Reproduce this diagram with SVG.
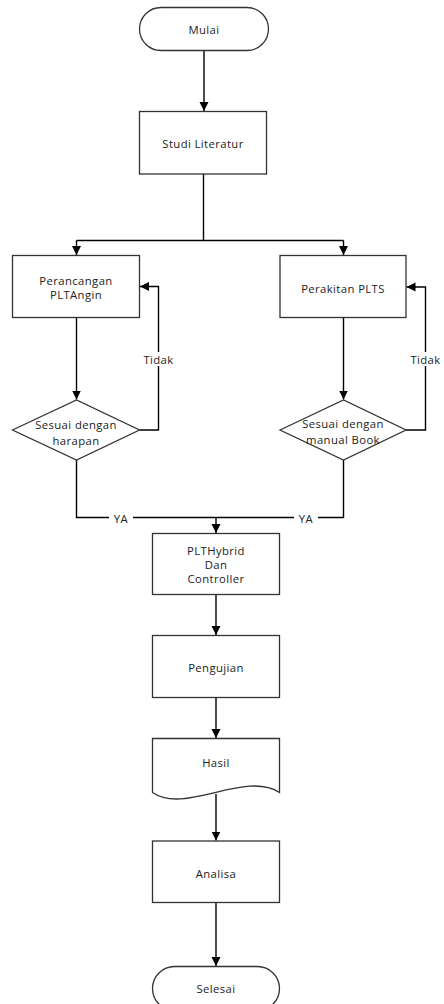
<svg xmlns="http://www.w3.org/2000/svg" width="444" height="1004" viewBox="0 0 444 1004">
<defs>
<marker id="arr" markerWidth="10" markerHeight="10" refX="9" refY="5" orient="auto" markerUnits="userSpaceOnUse">
<path d="M0,0.5 L9,5 L0,9.5 Z" fill="#000"/>
</marker>
<style>
.shape{fill:#fff;stroke:#333;stroke-width:1.3}
.ln{fill:none;stroke:#000;stroke-width:1.4}
text{font-family:"Open Sans","DejaVu Sans",sans-serif;font-size:11.3px;letter-spacing:0.4px;fill:#222;text-anchor:middle;dominant-baseline:central}
.lbl{fill:#fff;stroke:none}
</style>
</defs>
<rect width="444" height="1004" fill="#fff"/>
<g id="connectors">
<path class="ln" d="M204,50.5 V111" marker-end="url(#arr)"/>
<path class="ln" d="M203.5,174 V240.5"/>
<path class="ln" d="M76.5,240.5 H343.5"/>
<path class="ln" d="M76.5,240.5 V255" marker-end="url(#arr)"/>
<path class="ln" d="M343.5,240.5 V255" marker-end="url(#arr)"/>
<path class="ln" d="M76.5,317.5 V399.5" marker-end="url(#arr)"/>
<path class="ln" d="M343.5,317.5 V399.5" marker-end="url(#arr)"/>
<path class="ln" d="M139.5,430 H158.5 V286.5 H140" marker-end="url(#arr)"/>
<path class="ln" d="M406,430 H425.5 V287 H406.5" marker-end="url(#arr)"/>
<path class="ln" d="M76.5,460 V517.5 H343.5 V460"/>
<path class="ln" d="M216,517.5 V533" marker-end="url(#arr)"/>
<path class="ln" d="M216,594.5 V635" marker-end="url(#arr)"/>
<path class="ln" d="M216,697.5 V738" marker-end="url(#arr)"/>
<path class="ln" d="M216,794 V840.5" marker-end="url(#arr)"/>
<path class="ln" d="M216,902.5 V966" marker-end="url(#arr)"/>
<rect class="lbl" x="143" y="352" width="31" height="14"/>
<text x="158.5" y="359">Tidak</text>
<rect class="lbl" x="410" y="352" width="31" height="14"/>
<text x="425.5" y="359">Tidak</text>
<rect class="lbl" x="109" y="511" width="24" height="13"/>
<text x="121" y="518">YA</text>
<rect class="lbl" x="294" y="511" width="24" height="13"/>
<text x="306" y="518">YA</text>
</g>
<g id="mulai">
<rect class="shape" x="139.5" y="7.5" width="129" height="43" rx="21.5"/>
<text x="204" y="29">Mulai</text>
</g>
<g id="studi">
<rect class="shape" x="139.5" y="111.5" width="127" height="62.5"/>
<text x="203" y="143">Studi Literatur</text>
</g>
<g id="perancangan">
<rect class="shape" x="12.5" y="255.5" width="127" height="62"/>
<text x="76" y="280.5">Perancangan</text>
<text x="76" y="294">PLTAngin</text>
</g>
<g id="perakitan">
<rect class="shape" x="280" y="255.5" width="126" height="62"/>
<text x="343" y="288">Perakitan PLTS</text>
</g>
<g id="sesuai1">
<polygon class="shape" points="12.5,430 76.5,400 139.5,430 76.5,460"/>
<text x="76" y="424">Sesuai dengan</text>
<text x="76" y="440.5">harapan</text>
</g>
<g id="sesuai2">
<polygon class="shape" points="280,430 343.5,400 406,430 343.5,460"/>
<text x="343" y="423">Sesuai dengan</text>
<text x="343" y="439">manual Book</text>
</g>
<g id="plthybrid">
<rect class="shape" x="152.5" y="533.5" width="127" height="61"/>
<text x="216" y="550">PLTHybrid</text>
<text x="216" y="564">Dan</text>
<text x="216" y="578">Controller</text>
</g>
<g id="pengujian">
<rect class="shape" x="152.5" y="635.5" width="127" height="62"/>
<text x="216" y="667">Pengujian</text>
</g>
<g id="hasil">
<path class="shape" d="M152.5,738.5 H279.5 V792.5 C245,770 185,815 152.5,792.5 Z"/>
<text x="216" y="762.5">Hasil</text>
</g>
<g id="analisa">
<rect class="shape" x="152.5" y="841" width="127" height="61.5"/>
<text x="216" y="873">Analisa</text>
</g>
<g id="selesai">
<rect class="shape" x="152.5" y="966.5" width="127" height="44" rx="22"/>
<text x="216" y="988">Selesai</text>
</g>
</svg>
